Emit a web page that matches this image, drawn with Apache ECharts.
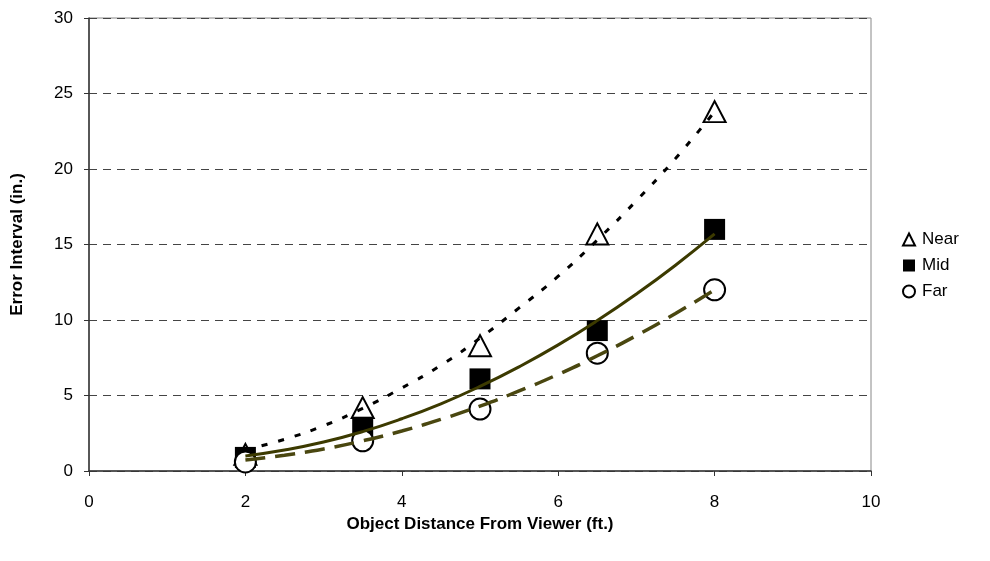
<!DOCTYPE html>
<html>
<head>
<meta charset="utf-8">
<script src="https://cdn.jsdelivr.net/npm/echarts@6/dist/echarts.min.js"></script>
<style>
  html, body { margin: 0; padding: 0; background: #fff; }
  #chart { width: 990px; height: 561px; }
</style>
</head>
<body>
<div id="chart"></div>
<script>
// measured points
var distances = [2, 3.5, 5, 6.5, 8]
var nearVals = [1.1, 4.2, 8.3, 15.7, 23.8]
var midVals = [0.9, 2.9, 6.1, 9.3, 16.0]
var farVals = [0.6, 2.0, 4.1, 7.8, 12.0]

// trend curves
var trendX = [2, 2.5, 3, 3.5, 4, 4.5, 5, 5.5, 6, 6.5, 7, 7.5, 8]
var nearTrend = [1.4, 2.1, 3.0, 4.15, 5.5, 7.0, 8.8, 10.8, 12.9, 15.3, 17.9, 20.7, 23.8]
var midTrend = [1.0, 1.39, 1.92, 2.61, 3.46, 4.45, 5.6, 6.9, 8.35, 9.96, 11.72, 13.63, 15.7]
var farTrend = [0.73, 1.04, 1.46, 2.0, 2.65, 3.42, 4.3, 5.3, 6.4, 7.63, 8.97, 10.43, 12.0]

var xTicks = [0, 2, 4, 6, 8, 10]
var yTicks = [0, 5, 10, 15, 20, 25, 30]

function pairs(xs, ys) {
  return xs.map(function(x, i) { return [x, ys[i]] })
}

var font = 'Liberation Sans, Arial, sans-serif'
var chart = echarts.init(document.getElementById('chart'))

var option = {
  animation: false,
  textStyle: { fontFamily: font },
  grid: { left: 89, right: 119, top: 18, bottom: 90, show: true, borderColor: '#888', borderWidth: 1 },
  legend: {
    data: ['Near', 'Mid', 'Far'],
    orient: 'vertical',
    left: 897,
    top: 226,
    itemWidth: 12,
    itemHeight: 12,
    itemGap: 9,
    textStyle: { fontSize: 17, color: '#000', fontFamily: font, padding: [0, 0, 0, 2] }
  },
  xAxis: {
    type: 'value',
    min: xTicks[0],
    max: xTicks[xTicks.length - 1],
    interval: 2,
    name: 'Object Distance From Viewer (ft.)',
    nameLocation: 'middle',
    nameGap: 43,
    nameTextStyle: { fontSize: 17, fontWeight: 'bold', color: '#000', fontFamily: font },
    axisLine: { lineStyle: { color: '#333', width: 1.5 } },
    axisTick: { show: true, length: 5, lineStyle: { color: '#333' } },
    axisLabel: { fontSize: 17, color: '#000', margin: 23 },
    splitLine: { show: false }
  },
  yAxis: {
    type: 'value',
    min: yTicks[0],
    max: yTicks[yTicks.length - 1],
    interval: 5,
    name: 'Error Interval (in.)',
    nameLocation: 'middle',
    nameGap: 63,
    nameTextStyle: { fontSize: 17, fontWeight: 'bold', color: '#000', fontFamily: font },
    axisLine: { show: true, lineStyle: { color: '#333', width: 1.5 } },
    axisTick: { show: true, length: 5, lineStyle: { color: '#333' } },
    axisLabel: { fontSize: 17, color: '#000', margin: 16 },
    splitLine: { show: true, lineStyle: { color: '#444', type: [8, 6], width: 1 } }
  },
  series: [
    {
      name: 'Near',
      type: 'scatter',
      symbol: 'triangle',
      symbolSize: [22, 21],
      z: 2,
      itemStyle: { color: '#fff', borderColor: '#000', borderWidth: 2, opacity: 1 },
      data: pairs(distances, nearVals)
    },
    {
      name: 'Mid',
      type: 'scatter',
      symbol: 'rect',
      symbolSize: 21,
      z: 2,
      itemStyle: { color: '#000', borderColor: '#000', borderWidth: 0, opacity: 1 },
      data: pairs(distances, midVals)
    },
    {
      name: 'Far',
      type: 'scatter',
      symbol: 'circle',
      symbolSize: 21,
      z: 2,
      itemStyle: { color: '#fff', borderColor: '#000', borderWidth: 2, opacity: 1 },
      data: pairs(distances, farVals)
    },
    {
      name: 'Near trend',
      type: 'line',
      smooth: true,
      showSymbol: false,
      z: 5,
      lineStyle: { color: '#000', width: 3, type: [6, 11] },
      data: pairs(trendX, nearTrend)
    },
    {
      name: 'Mid trend',
      type: 'line',
      smooth: true,
      showSymbol: false,
      z: 5,
      lineStyle: { color: '#3c3a00', width: 3 },
      data: pairs(trendX, midTrend)
    },
    {
      name: 'Far trend',
      type: 'line',
      smooth: true,
      showSymbol: false,
      z: 5,
      lineStyle: { color: '#4a4710', width: 3.5, type: [20, 10] },
      data: pairs(trendX, farTrend)
    }
  ]
}

chart.setOption(option)
</script>
</body>
</html>
